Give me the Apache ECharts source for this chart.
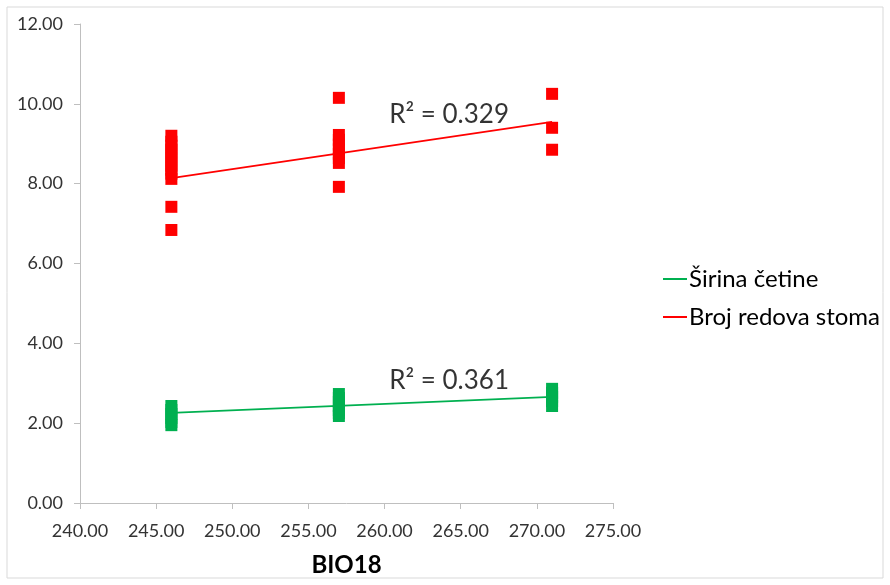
<!DOCTYPE html>
<html><head><meta charset="utf-8">
<script src="https://cdn.jsdelivr.net/npm/echarts@6/dist/echarts.min.js"></script>
<style>html,body{margin:0;padding:0;background:#fff}#c{width:890px;height:585px}</style>
</head><body><div id="c"></div>
<script>
const redX = [246,246,246,246,246,246,246,246,246,246,246,246,246,
              257,257,257,257,257,257,257,257,257,
              271,271,271];
const redY = [9.2,9.05,8.95,8.85,8.75,8.65,8.55,8.45,8.35,8.25,8.12,7.42,6.84,
              10.15,9.22,9.1,8.98,8.86,8.75,8.64,8.52,7.92,
              10.25,9.4,8.85];
const greenX = [246,246,246,246,246,246,
                257,257,257,257,257,257,257,
                271,271,271,271,271];
const greenY = [2.43,2.33,2.23,2.13,2.03,1.95,
                2.73,2.63,2.53,2.43,2.33,2.25,2.18,
                2.86,2.76,2.66,2.55,2.43];
// trend line endpoints
const trendX = [246, 271];
const redTrend = [8.14, 9.55];
const greenTrend = [2.26, 2.66];
const labels = ["R² = 0.329", "R² = 0.361"];
const labelPos = [[260.3, 9.72], [260.3, 3.06]];
const xTicks = {min:240, max:275, interval:5};
const yTicks = {min:0, max:12, interval:2};
const seriesNames = ["Širina četine", "Broj redova stoma"];

const font = "Lato, 'Open Sans', sans-serif";
const zip = (a,b) => a.map((v,i)=>[v,b[i]]);
const chart = echarts.init(document.getElementById('c'));
chart.setOption({
  animation:false,
  backgroundColor:'#fff',
  graphic:[{type:'rect',shape:{x:7,y:7,width:876,height:571},style:{fill:'none',stroke:'#d9d9d9',lineWidth:1},silent:true}],
  grid:{left:80,right:277,top:24,bottom:82},
  legend:{
    orient:'vertical', left:658, top:262, itemGap:14,
    data:seriesNames, icon:'rect', itemWidth:24, itemHeight:2,
    textStyle:{fontFamily:font,fontSize:24,color:'#000',padding:[0,0,0,-3]}
  },
  xAxis:{
    type:'value', min:xTicks.min, max:xTicks.max, interval:xTicks.interval,
    name:'BIO18', nameLocation:'middle', nameGap:50,
    nameTextStyle:{fontFamily:font,fontSize:24,fontWeight:'bold',color:'#000'},
    axisLine:{show:true,onZero:false,lineStyle:{color:'#bfbfbf'}},
    axisTick:{show:true,length:6,lineStyle:{color:'#bfbfbf'}},
    axisLabel:{fontFamily:font,fontSize:18,color:'#333',margin:19,formatter:v=>v.toFixed(2)},
    splitLine:{show:false}
  },
  yAxis:{
    type:'value', min:yTicks.min, max:yTicks.max, interval:yTicks.interval,
    axisLine:{show:true,lineStyle:{color:'#bfbfbf'}},
    axisTick:{show:true,length:6,lineStyle:{color:'#bfbfbf'}},
    axisLabel:{fontFamily:font,fontSize:18,color:'#333',margin:17,formatter:v=>v.toFixed(2)},
    splitLine:{show:false}
  },
  series:[
    {name:'redPts',type:'scatter',symbol:'rect',symbolSize:12,itemStyle:{color:'#ff0000',opacity:1},data:zip(redX,redY),z:3},
    {name:'greenPts',type:'scatter',symbol:'rect',symbolSize:12,itemStyle:{color:'#00b050',opacity:1},data:zip(greenX,greenY),z:3},
    {name:seriesNames[0],type:'line',showSymbol:false,symbol:'none',lineStyle:{color:'#00b050',width:1.8},itemStyle:{color:'#00b050'},data:zip(trendX,greenTrend),z:4},
    {name:seriesNames[1],type:'line',showSymbol:false,symbol:'none',lineStyle:{color:'#ff0000',width:1.8},itemStyle:{color:'#ff0000'},data:zip(trendX,redTrend),z:4},
    {name:'labels',type:'scatter',symbolSize:0,silent:true,
     data:labelPos.map((p,i)=>({value:p,label:{show:true,position:'right',distance:0,formatter:labels[i],fontFamily:font,fontSize:26,color:'#000'}}))}
  ]
});
</script></body></html>
